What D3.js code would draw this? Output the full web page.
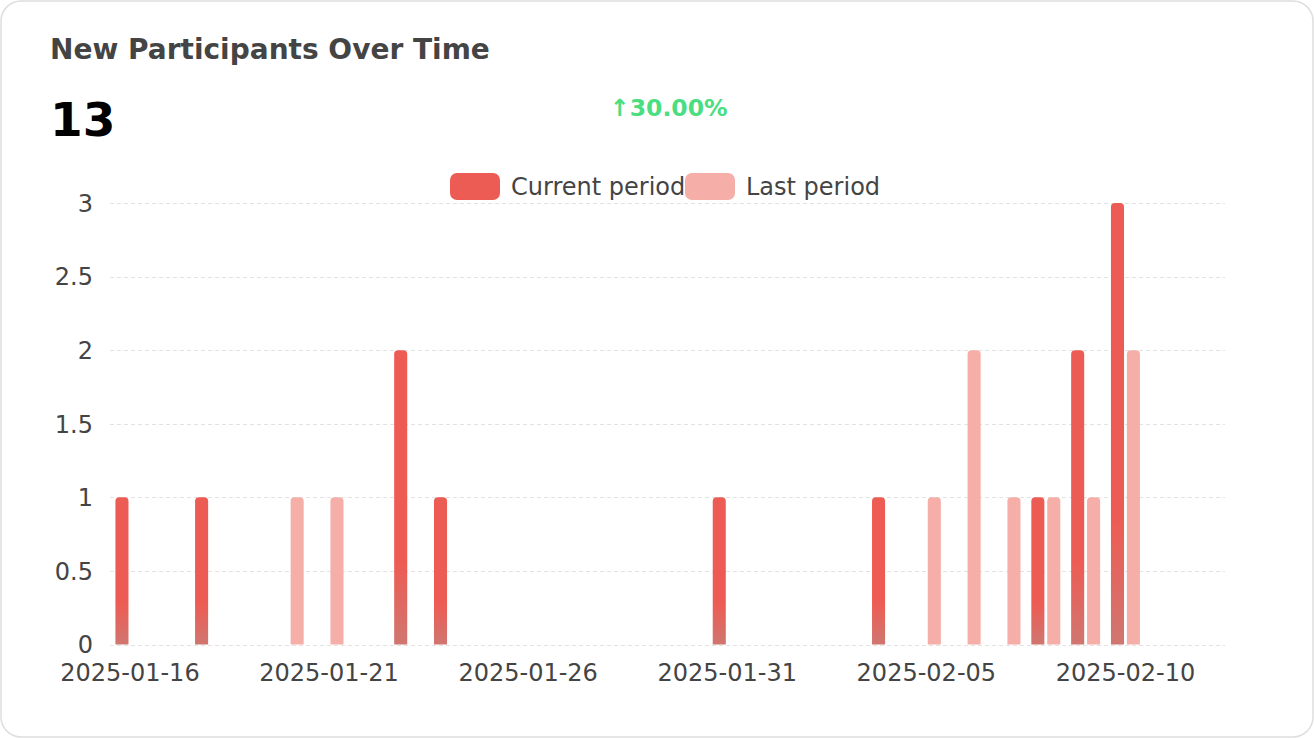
<!DOCTYPE html>
<html>
<head>
<meta charset="utf-8">
<script src="https://cdn.jsdelivr.net/npm/d3@7"></script>
<style>
    html, body { margin: 0; padding: 0; background: #fff; }
    svg { display: block; font-family: "DejaVu Sans", sans-serif; }
</style>
</head>
<body>
<div id="chart"></div>
<script>
const dates = [
    "2025-01-16", "2025-01-17", "2025-01-18", "2025-01-19", "2025-01-20", "2025-01-21", "2025-01-22",
    "2025-01-23", "2025-01-24", "2025-01-25", "2025-01-26", "2025-01-27", "2025-01-28", "2025-01-29",
    "2025-01-30", "2025-01-31", "2025-02-01", "2025-02-02", "2025-02-03", "2025-02-04", "2025-02-05",
    "2025-02-06", "2025-02-07", "2025-02-08", "2025-02-09", "2025-02-10", "2025-02-11", "2025-02-12"
];
const currentPeriod = [1, 0, 1, 0, 0, 0, 0, 2, 1, 0, 0, 0, 0, 0, 0, 1, 0, 0, 0, 1, 0, 0, 0, 1, 2, 3, 0, 0];
const lastPeriod    = [0, 0, 0, 0, 1, 1, 0, 0, 0, 0, 0, 0, 0, 0, 0, 0, 0, 0, 0, 0, 1, 2, 1, 1, 1, 2, 0, 0];
const yTicks = [0, 0.5, 1, 1.5, 2, 2.5, 3];
const seriesNames = ["Current period", "Last period"];
const seriesColors = ["#ed5c54", "#f6aea8"];

const width = 1314;
const height = 738;
const margin = { top: 203, right: 89, bottom: 93, left: 110 };
const fontSize = 24;

const total = d3.sum(currentPeriod);
const prevTotal = d3.sum(lastPeriod);
const change = (total - prevTotal) / prevTotal * 100;

const svg = d3.select("#chart")
    .append("svg")
    .attr("width", width)
    .attr("height", height);

// card
svg.append("rect")
    .attr("x", 1).attr("y", 1)
    .attr("width", width - 2).attr("height", height - 2)
    .attr("rx", 20)
    .attr("fill", "#fff")
    .attr("stroke", "#dedede")
    .attr("stroke-width", 1.5);

svg.append("text")
    .attr("x", 50).attr("y", 59)
    .attr("font-size", 28)
    .attr("font-weight", "bold")
    .attr("fill", "#444")
    .text("New Participants Over Time");

svg.append("text")
    .attr("x", 50).attr("y", 136)
    .attr("font-size", 47)
    .attr("font-weight", "bold")
    .attr("fill", "#000")
    .text(total);

svg.append("text")
    .attr("x", 610).attr("y", 116)
    .attr("font-size", 23.5)
    .attr("font-weight", "bold")
    .attr("fill", "#4ade80")
    .text("↑" + change.toFixed(2) + "%");

const defs = svg.append("defs");
const grad = defs.append("linearGradient")
    .attr("id", "curGrad")
    .attr("x1", 0).attr("y1", 0).attr("x2", 0).attr("y2", 1);
grad.append("stop").attr("offset", "0").attr("stop-color", seriesColors[0]);
grad.append("stop").attr("offset", "0.72").attr("stop-color", seriesColors[0]);
grad.append("stop").attr("offset", "1").attr("stop-color", "#d07670");

const x = d3.scaleBand()
    .domain(dates)
    .range([margin.left, width - margin.right]);

const x1 = d3.scaleBand()
    .domain(seriesNames)
    .range([x.bandwidth() * 0.1, x.bandwidth() * 0.9]);

const y = d3.scaleLinear()
    .domain([0, 3])
    .range([height - margin.bottom - 0.5, margin.top]);

// grid
svg.append("g")
    .selectAll("line")
    .data(yTicks)
    .join("line")
    .attr("x1", margin.left)
    .attr("x2", width - margin.right)
    .attr("y1", d => Math.round(y(d)) + 0.5)
    .attr("y2", d => Math.round(y(d)) + 0.5)
    .attr("stroke", "#e3e3e3")
    .attr("stroke-dasharray", "4,3");

const yAxis = svg.append("g")
    .attr("transform", `translate(${margin.left - 17},0)`)
    .call(d3.axisLeft(y).tickValues(yTicks).tickFormat(d3.format("~g")).tickSize(0).tickPadding(0));
yAxis.select(".domain").remove();
yAxis.selectAll("text")
    .attr("font-size", fontSize)
    .attr("font-family", "DejaVu Sans")
    .attr("fill", "#444")
    .attr("dy", "0.35em");

const xAxis = svg.append("g")
    .attr("transform", `translate(0,${height - margin.bottom})`)
    .call(d3.axisBottom(x).tickValues(dates.filter((d, i) => i % 5 === 0)).tickSize(0).tickPadding(19));
xAxis.select(".domain").remove();
xAxis.selectAll("text")
    .attr("font-size", fontSize)
    .attr("font-family", "DejaVu Sans")
    .attr("fill", "#444");

// bars
const barData = [];
dates.forEach((d, i) => {
    barData.push({ date: d, key: seriesNames[0], value: currentPeriod[i] });
    barData.push({ date: d, key: seriesNames[1], value: lastPeriod[i] });
});

const barW = x1.bandwidth() * 0.82;
const r = 4;

function barPath(d) {
    const x0 = x(d.date) + x1(d.key) + (x1.bandwidth() - barW) / 2;
    const y0 = y(d.value);
    const yb = y(0);
    return `M${x0},${yb} L${x0},${y0 + r} Q${x0},${y0} ${x0 + r},${y0} ` +
        `L${x0 + barW - r},${y0} Q${x0 + barW},${y0} ${x0 + barW},${y0 + r} L${x0 + barW},${yb} Z`;
}

svg.append("g")
    .selectAll("path")
    .data(barData.filter(d => d.value > 0))
    .join("path")
    .attr("d", barPath)
    .attr("fill", d => d.key === seriesNames[0] ? "url(#curGrad)" : seriesColors[1]);

// legend
const legendX = [450, 685];
const legend = svg.append("g")
    .selectAll("g")
    .data(seriesNames)
    .join("g")
    .attr("transform", (d, i) => `translate(${legendX[i]},173)`);

legend.append("rect")
    .attr("width", 50).attr("height", 27)
    .attr("rx", 7)
    .attr("fill", (d, i) => seriesColors[i]);

legend.append("text")
    .attr("x", 61).attr("y", 22)
    .attr("font-size", fontSize)
    .attr("fill", "#444")
    .text(d => d);
</script>
</body>
</html>
